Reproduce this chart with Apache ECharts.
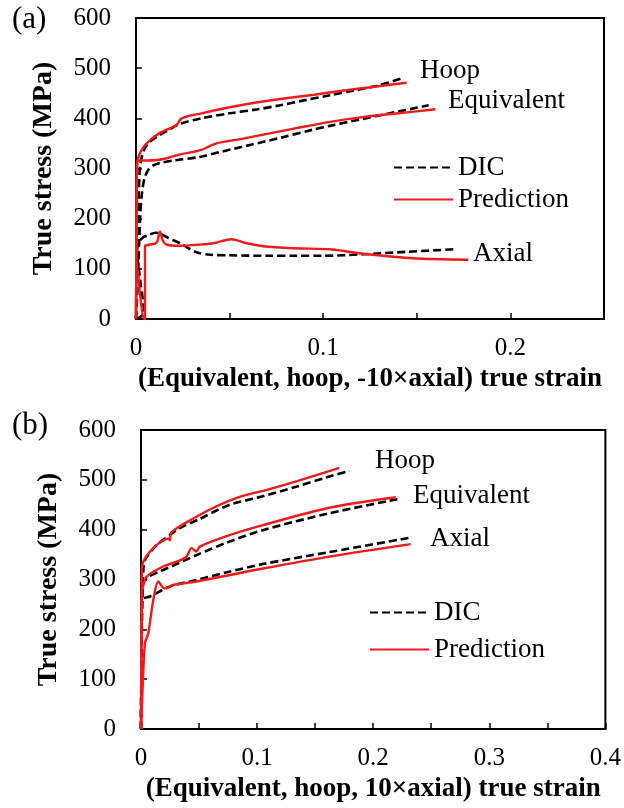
<!DOCTYPE html>
<html>
<head>
<meta charset="utf-8">
<script src="https://cdn.jsdelivr.net/npm/echarts@6/dist/echarts.min.js"></script>
<style>
  html, body { margin: 0; padding: 0; background: #fff; }
  #chart { width: 624px; height: 808px; }
</style>
</head>
<body>
<div id="chart"></div>
<script>
// Tube test: true stress vs. true strain, DIC measurement against model prediction.
// Each series is a list of [strain, stress (MPa)] pairs.

// (a) x axis: equivalent, hoop and -10×axial strain
const aHoopDIC = [[0,0],[0.0008,120],[0.0015,250],[0.0022,305],[0.004,335],[0.0065,350],[0.011,363],[0.0175,377],[0.0235,389],[0.035,400],[0.05,410],[0.065,418],[0.077,426],[0.09,436],[0.1036,446],[0.117,456],[0.13,466],[0.142,480]];
const aHoopPred = [[0,0],[0.0003,200],[0.0006,310],[0.0015,325],[0.004,343],[0.008,358],[0.0128,371],[0.018,380],[0.0217,387],[0.0244,400],[0.035,410],[0.05,422],[0.065,432],[0.08,440],[0.095,447],[0.11,455],[0.125,462],[0.1446,471]];
const aEqDIC = [[0,0],[0.001,80],[0.0022,200],[0.003,245],[0.0045,280],[0.0065,297],[0.0092,306],[0.0128,311],[0.02,316],[0.034,323],[0.045,333],[0.061,347],[0.078,362],[0.094,377],[0.1036,385],[0.12,398],[0.138,412],[0.1563,426]];
const aEqPred = [[0,0],[0.0003,200],[0.0006,312],[0.002,316],[0.006,316],[0.011,317],[0.017,321],[0.0235,328],[0.034,336],[0.043,350],[0.055,358],[0.07,369],[0.085,380],[0.1036,393],[0.12,402],[0.14,410],[0.1599,418]];
const aAxialDIC = [[0,0],[0.0043,12],[0.0025,70],[0.0006,140],[0.0012,150],[0.0025,158],[0.004,163],[0.007,168],[0.0105,172],[0.013,170],[0.017,162],[0.0235,151],[0.0324,133],[0.04,128],[0.05,127],[0.07,126],[0.0858,126],[0.1,126],[0.1214,129],[0.145,134],[0.17,139]];
const aAxialPred = [[0,0],[0.0004,110],[0.0043,0],[0.0048,0],[0.0048,145],[0.007,148],[0.011,152],[0.0128,174],[0.0145,155],[0.0165,148],[0.0235,146],[0.033,148],[0.0413,151],[0.0511,159],[0.058,152],[0.068,145],[0.085,141],[0.1036,139],[0.112,135],[0.1214,130],[0.148,121],[0.1775,118]];

// (b) x axis: equivalent, hoop and 10×axial strain
const bHoopDIC = [[0,0],[0.0005,150],[0.001,260],[0.002,320],[0.0034,339],[0.007,352],[0.0135,369],[0.02,381],[0.0335,403],[0.05,421],[0.0764,450],[0.1,464],[0.1336,486],[0.16,505],[0.1794,518]];
const bHoopPred = [[0,0],[0.0003,200],[0.0008,320],[0.002,336],[0.0077,356],[0.015,372],[0.0235,382],[0.0249,379],[0.026,394],[0.0478,426],[0.065,447],[0.085,466],[0.11,481],[0.1336,497],[0.1708,524]];
const bEqDIC = [[0,0],[0.0005,150],[0.001,250],[0.002,292],[0.006,305],[0.0191,319],[0.0478,349],[0.075,375],[0.105,399],[0.1622,433],[0.2209,461]];
const bEqPred = [[0,0],[0.0005,200],[0.001,275],[0.002,289],[0.0049,306],[0.0191,326],[0.033,338],[0.0392,346],[0.0435,363],[0.0478,356],[0.0506,366],[0.075,388],[0.105,409],[0.1622,444],[0.2195,465]];
const bAxialDIC = [[0,0],[0.0003,120],[0.0006,259],[0.003,263],[0.0077,266],[0.0249,286],[0.0478,299],[0.075,315],[0.105,331],[0.1622,355],[0.2323,384]];
const bAxialPred = [[0,0],[0.001,60],[0.0034,172],[0.0063,192],[0.0106,259],[0.0149,296],[0.0185,285],[0.0206,282],[0.0277,289],[0.0478,296],[0.105,322],[0.1622,346],[0.2323,371]];

// Axis ticks (labels only on multiples of 0.1 for strain)
const stressTicks = { min: 0, max: 600, step: 100 };
const strainTicksA = { min: 0, max: 0.25, step: 0.05 };
const strainTicksB = { min: 0, max: 0.4, step: 0.05 };

// Curve annotations: text, left x, centre y
const curveNamesA = [['Hoop', 420, 72], ['Equivalent', 448, 102], ['Axial', 473, 255]];
const curveNamesB = [['Hoop', 375, 462], ['Equivalent', 413, 497], ['Axial', 430, 540]];

const SERIF = "'Liberation Serif', 'Times New Roman', serif";
const RED = '#f21a1a';

const chart = echarts.init(document.getElementById('chart'), null, { renderer: 'canvas' });

function strainLabel(v) {
  const tenth = v * 10;
  if (Math.abs(tenth - Math.round(tenth)) > 1e-6) return '';
  return String(+v.toFixed(2));
}

function strainAxis(gridIndex, t, title) {
  return {
    type: 'value', gridIndex, min: t.min, max: t.max, interval: t.step,
    name: title, nameLocation: 'middle', nameGap: 47,
    nameTextStyle: { fontFamily: SERIF, fontWeight: 'bold', fontSize: 27, color: '#000' },
    axisLine: { show: true, onZero: false, lineStyle: { color: '#000', width: 2 } },
    axisTick: { show: true, inside: true, length: 6, lineStyle: { color: '#000', width: 1.5 } },
    axisLabel: {
      margin: 17, fontFamily: SERIF, fontSize: 25, color: '#000',
      showMaxLabel: true, formatter: strainLabel
    },
    splitLine: { show: false }
  };
}

function stressAxis(gridIndex) {
  return {
    type: 'value', gridIndex, min: stressTicks.min, max: stressTicks.max, interval: stressTicks.step,
    name: 'True stress (MPa)', nameLocation: 'middle', nameGap: 78,
    nameTextStyle: { fontFamily: SERIF, fontWeight: 'bold', fontSize: 28, color: '#000' },
    axisLine: { show: true, onZero: false, lineStyle: { color: '#000', width: 2 } },
    axisTick: { show: true, inside: true, length: 6, lineStyle: { color: '#000', width: 1.5 } },
    axisLabel: { margin: 25, fontFamily: SERIF, fontSize: 25, color: '#000' },
    splitLine: { show: false }
  };
}

function curve(name, data, idx, dashed) {
  return {
    type: 'line', name, data, xAxisIndex: idx, yAxisIndex: idx,
    symbol: 'none', smooth: 0.3, silent: true, z: dashed ? 2 : 3,
    lineStyle: dashed
      ? { color: '#000', width: 2.6, type: [8, 4] }
      : { color: RED, width: 2.4, type: 'solid' },
    itemStyle: { color: dashed ? '#000' : RED }
  };
}

function legendAt(left, top, gap) {
  return {
    orient: 'vertical', left, top, itemGap: gap, itemWidth: 59, itemHeight: 14,
    data: ['DIC', 'Prediction'], selectedMode: false,
    itemStyle: { opacity: 0, color: 'rgba(0,0,0,0)', borderWidth: 0 },
    textStyle: { fontFamily: SERIF, fontSize: 27, color: '#000' }
  };
}

function labels(list) {
  return list.map(([t, x, y]) => ({
    type: 'text', left: x, top: y - 15,
    style: { text: t, font: `27px ${SERIF}`, fill: '#000' }
  }));
}

chart.setOption({
  animation: false,
  backgroundColor: '#fff',
  grid: [
    { left: 136, right: 20, top: 18, bottom: 489, show: true, borderColor: '#000', borderWidth: 2, containLabel: false },
    { left: 141, right: 17, top: 430, bottom: 79, show: true, borderColor: '#000', borderWidth: 2, containLabel: false }
  ],
  xAxis: [
    strainAxis(0, strainTicksA, '(Equivalent, hoop, -10×axial) true strain'),
    strainAxis(1, strainTicksB, '(Equivalent, hoop, 10×axial) true strain')
  ],
  yAxis: [stressAxis(0), stressAxis(1)],
  legend: [legendAt(388, 149, 5), legendAt(364, 594, 10)],
  series: [
    curve('DIC', aHoopDIC, 0, true),
    curve('DIC', aEqDIC, 0, true),
    curve('DIC', aAxialDIC, 0, true),
    curve('Prediction', aHoopPred, 0, false),
    curve('Prediction', aEqPred, 0, false),
    curve('Prediction', aAxialPred, 0, false),
    curve('DIC', bHoopDIC, 1, true),
    curve('DIC', bEqDIC, 1, true),
    curve('DIC', bAxialDIC, 1, true),
    curve('Prediction', bHoopPred, 1, false),
    curve('Prediction', bEqPred, 1, false),
    curve('Prediction', bAxialPred, 1, false)
  ],
  graphic: [
    { type: 'text', left: 12, top: 4, style: { text: '(a)', font: `31px ${SERIF}`, fill: '#000' } },
    { type: 'text', left: 12, top: 410, style: { text: '(b)', font: `31px ${SERIF}`, fill: '#000' } },
    ...labels(curveNamesA),
    ...labels(curveNamesB)
  ]
});
</script>
</body>
</html>
